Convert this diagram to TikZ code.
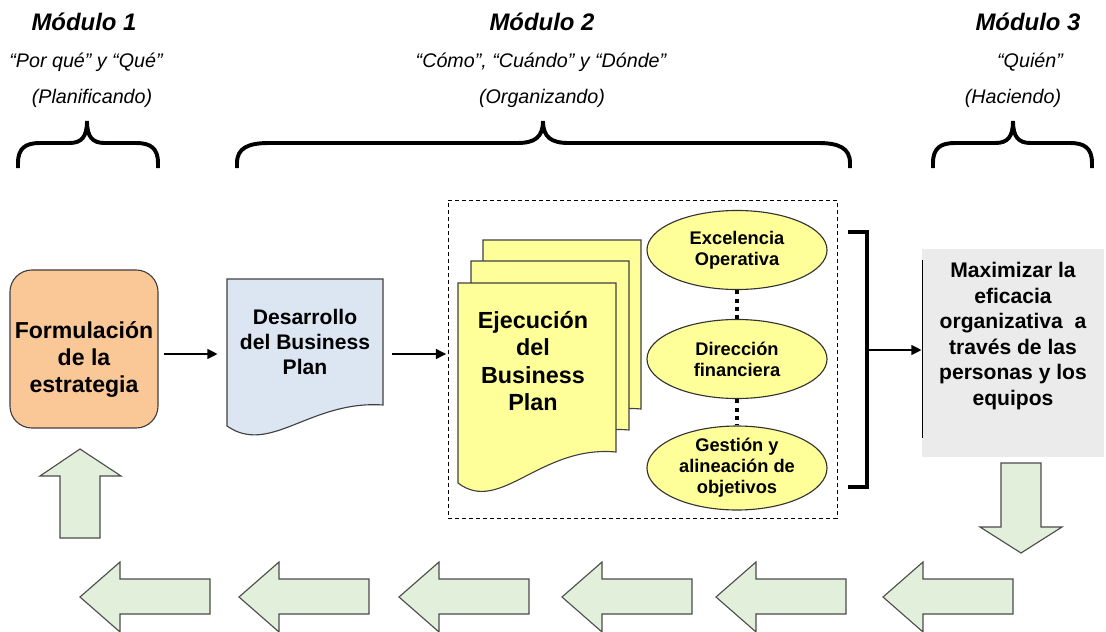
\documentclass[tikz,border=0pt]{standalone}
\usepackage{fontspec}
\setmainfont{Liberation Sans}
\usetikzlibrary{arrows.meta, positioning, shapes.geometric, fit, calc}
\definecolor{stratOrange}{HTML}{FAC796}
\definecolor{devBlue}{HTML}{DCE6F2}
\definecolor{planYellow}{HTML}{FFFF99}
\definecolor{maxGray}{HTML}{EBEBEB}
\definecolor{loopGreen}{HTML}{E2EFDA}
\tikzset{
    modTitle/.style={font=\fontsize{17}{20}\selectfont\bfseries\itshape},
    modSub/.style={font=\fontsize{14}{16}\selectfont\itshape},
    modBrace/.style={line width=2.8pt},
    stratBox/.style={draw=black!75, fill=stratOrange, rounded corners=5.5mm, minimum width=3.7cm, minimum height=3.95cm, line width=0.8pt},
    stratText/.style={align=center, font=\fontsize{16.4}{19.2}\selectfont\bfseries},
    docLine/.style={draw=black!75, line width=0.8pt},
    devText/.style={align=center, font=\fontsize{15}{17.8}\selectfont\bfseries, minimum width=3.9cm, minimum height=3.15cm},
    planText/.style={align=center, font=\fontsize{16.6}{19.6}\selectfont\bfseries},
    execBox/.style={draw, dash pattern=on 1mm off 0.75mm, line width=0.7pt, inner sep=0pt},
    goalNode/.style={ellipse, draw=black!80, fill=planYellow, line width=0.8pt, inner sep=0pt, minimum width=4.5cm, minimum height=1.975cm, align=center, font=\fontsize{13}{15}\selectfont\bfseries},
    dotLink/.style={line width=3pt, dash pattern=on 3pt off 3pt},
    bracket/.style={line width=2.2pt},
    maxBox/.style={fill=maxGray, minimum width=4.55cm, minimum height=5.2cm, inner sep=0pt},
    maxText/.style={align=center, font=\fontsize{15}{18.1}\selectfont\bfseries},
    conn/.style={-{Triangle[length=2.6mm, width=2.4mm]}, line width=2pt},
    blockArrow/.style={draw=black!70, fill=loopGreen, line width=0.8pt, line join=miter}
}

\begin{document}
\begin{tikzpicture}[x=0.025cm, y=-0.025cm]
    \useasboundingbox (0,0) rectangle (1106,632);
    % --- Module headings ---
    \node[modTitle] (modA) at (84,22) {Módulo 1};
    \node[modSub] (whyA) at (86,62) {“Por qué” y “Qué”};
    \node[modSub] (actA) at (92,98) {(Planificando)};
    \node[modTitle] (modB) at (542,22) {Módulo 2};
    \node[modSub] (whyB) at (541,62) {“Cómo”, “Cuándo” y “Dónde”};
    \node[modSub] (actB) at (542,98) {(Organizando)};
    \node[modTitle] (modC) at (1028,22) {Módulo 3};
    \node[modSub] (whyC) at (1030,62) {“Quién”};
    \node[modSub] (actC) at (1013,98) {(Haciendo)};
    % braces: left end / tip / right end / corner size
    \foreach \xa/\xm/\xb/\r in {18/87/158/22, 237/543/850/32, 933/1013/1092/22}
        \draw[modBrace] (\xa,168) -- (\xa,163) .. controls (\xa,148) and (\xa+0.35*\r,143) .. (\xa+\r,143)
            -- (\xm-0.8*\r,143) .. controls (\xm-0.25*\r,143) and (\xm,137) .. (\xm,121)
            .. controls (\xm,137) and (\xm+0.25*\r,143) .. (\xm+0.8*\r,143)
            -- (\xb-\r,143) .. controls (\xb-0.35*\r,143) and (\xb,148) .. (\xb,163) -- (\xb,168);

    % --- Strategy and business plan ---
    \node[stratBox] (strat) at (84,349) {};
    \node[stratText] (stratLbl) at (84,359) {Formulación\\de la\\estrategia};
    \draw[docLine, fill=devBlue] (227,279) -- (383,279) -- (383,405)
        .. controls (310,400) and (270,456) .. (227,426) -- cycle;
    \node[devText] (dev) at (305,342) {Desarrollo\\del Business\\Plan};

    % --- Execution block ---
    \coordinate (execNW) at (448,200); \coordinate (execSE) at (837,518);
    \node[execBox, fit=(execNW)(execSE)] (exec) {};
    \foreach \dx/\dy in {25/-43, 13/-22, 0/0}
        \draw[docLine, fill=planYellow, shift={(\dx,\dy)}] (458,283) -- (616,283) -- (616,452)
            .. controls (540,445) and (500,515) .. (458,483) -- cycle;
    \node[planText] (plan) at (533,361) {Ejecución\\del\\Business\\Plan};
    \node[goalNode] (excel) at (737,250) {Excelencia\\Operativa};
    \node[goalNode] (finance) at (737,359) {Dirección\\financiera};
    \node[goalNode] (align) at (737,468) {Gestión y\\alineación de\\objetivos};
    \draw[dotLink] (excel) -- (finance);
    \draw[dotLink] (finance) -- (align);

    % --- Result ---
    \draw[bracket] (848,232) -- (867,232) -- (867,487) -- (848,487);
    \coordinate (joint) at (867,350);
    \node[maxBox] (maxim) at (1013,353) {};
    \node[maxText] (maximLbl) at (1013,336) {Maximizar la\\eficacia\\organizativa~ a\\través de las\\personas y los\\equipos};
    \draw[line width=0.6pt] (922,260) -- (922,438);

    % --- Connectors ---
    \coordinate (row) at (0,354);
    \draw[conn, shorten <=1.25mm, shorten >=2.25mm] (strat.east |- row) -- (dev.west |- row);
    \draw[conn, shorten <=2.25mm, shorten >=0.3mm] (dev.east |- row) -- (exec.west |- row);
    \draw[conn] (joint) -- (joint -| maxim.west);

    % --- Feedback loop ---
    \draw[blockArrow] (1001,463) -- (1041,463) -- (1041,527) -- (1062,527) -- (1021,553)
        -- (980,527) -- (1001,527) -- cycle;
    \foreach \tx in {80,239,399,562,716,883}
        \draw[blockArrow] (\tx,597) -- (\tx+40,562) -- (\tx+40,579) -- (\tx+130,579)
            -- (\tx+130,614) -- (\tx+40,614) -- (\tx+40,632) -- cycle;
    \draw[blockArrow] (80,449) -- (121,476) -- (100,476) -- (100,538) -- (60,538)
        -- (60,476) -- (40,476) -- cycle;
\end{tikzpicture}
\end{document}
